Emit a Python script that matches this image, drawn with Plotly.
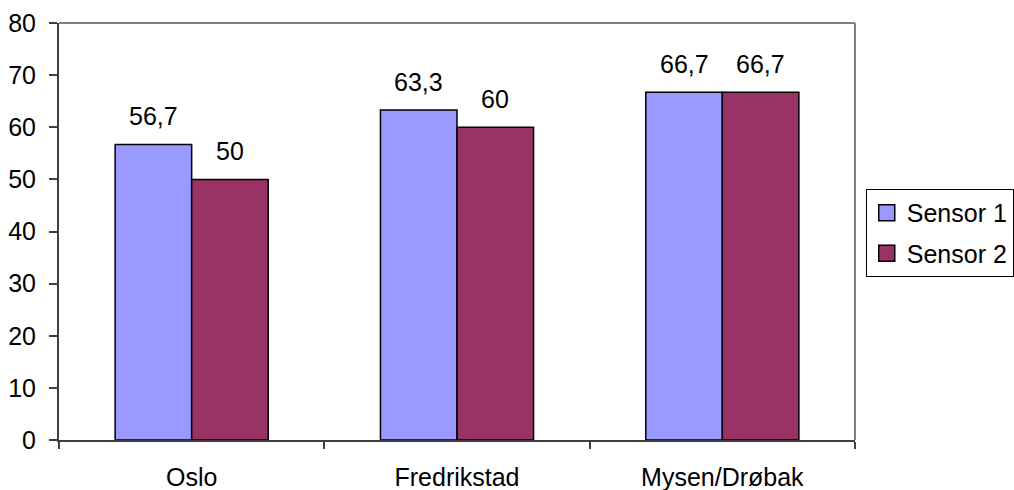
import plotly.graph_objects as go

# Categories and measured values per sensor
categories = ["Oslo", "Fredrikstad", "Mysen/Drøbak"]
sensor1 = [56.7, 63.3, 66.7]
sensor2 = [50, 60, 66.7]
series_names = ["Sensor 1", "Sensor 2"]
y_ticks = [0, 10, 20, 30, 40, 50, 60, 70, 80]

COLORS = ["#9999FF", "#993366"]
FONT = dict(family="Liberation Sans, Arial, sans-serif", size=25, color="#000000")
BARGAP = 0.423


def fmt(v):
    return f"{v:g}".replace(".", ",")


fig = go.Figure()
for name, vals, col in zip(series_names, [sensor1, sensor2], COLORS):
    fig.add_trace(go.Bar(
        x=categories, y=vals, name=name, showlegend=False,
        marker=dict(color=col, line=dict(color="#000000", width=1.5)),
    ))
    # legend proxy with a larger square swatch
    fig.add_trace(go.Scatter(
        x=[None], y=[None], mode="markers", name=name, legendgroup=name,
        marker=dict(symbol="square", size=16, color=col,
                    line=dict(color="#000000", width=1.5)),
    ))

# value labels above each bar
half = (1 - BARGAP) / 4
annotations = []
for k, vals in enumerate([sensor1, sensor2]):
    sign = -1 if k == 0 else 1
    for i, v in enumerate(vals):
        annotations.append(dict(
            x=i + sign * half, y=v, xref="x", yref="y",
            text=fmt(v), showarrow=False, yanchor="bottom",
            yshift=12, font=FONT,
        ))

fig.update_layout(
    width=1014, height=490,
    margin=dict(l=59, r=159, t=23, b=50, autoexpand=False),
    paper_bgcolor="white", plot_bgcolor="white",
    font=FONT,
    barmode="group", bargap=BARGAP, bargroupgap=0,
    annotations=annotations,
    legend=dict(
        x=1.0135, xanchor="left", y=0.602, yanchor="top",
        bordercolor="#000000", borderwidth=1, bgcolor="white",
        font=FONT, traceorder="grouped", tracegroupgap=5,
        itemsizing="trace",
    ),
    shapes=[
        dict(type="line", xref="paper", yref="paper", x0=0, x1=1, y0=1, y1=1,
             line=dict(color="#808080", width=2)),
        dict(type="line", xref="paper", yref="paper", x0=1, x1=1, y0=0, y1=1,
             line=dict(color="#808080", width=2)),
    ],
)
fig.update_xaxes(
    type="category", showline=True, linecolor="#404040", linewidth=2,
    ticks="outside", tickson="boundaries", ticklen=7, tickcolor="#404040",
    tickwidth=2, showgrid=False, ticklabelstandoff=14,
)
fig.update_yaxes(
    range=[0, 80], tickvals=y_ticks, showline=True, linecolor="#404040",
    linewidth=2, ticks="outside", ticklen=8, tickcolor="#404040", tickwidth=2,
    showgrid=False, zeroline=False, ticklabelstandoff=8,
)

fig.write_html("out.html")
